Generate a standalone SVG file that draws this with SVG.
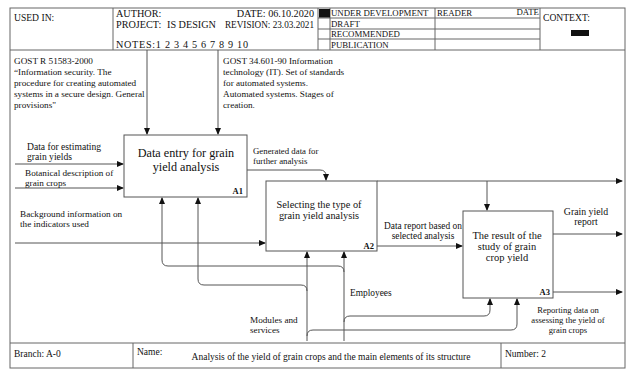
<svg xmlns="http://www.w3.org/2000/svg" width="630" height="369" viewBox="0 0 630 369">
<style>
text{font-family:"Liberation Serif","Times New Roman",serif;fill:#111}
.frame{fill:none;stroke:#666;stroke-width:1}
.box{fill:#fff;stroke:#555;stroke-width:1}
.c{fill:none;stroke:#555;stroke-width:1}
.hd{font-size:10.2px}
.st{font-size:8.8px}
.lb{font-size:9.2px}
.ft{font-size:9.5px}
</style>
<defs>
<marker id="ah" markerWidth="7" markerHeight="6" refX="6" refY="3" orient="auto" markerUnits="userSpaceOnUse">
<path d="M0 0 L7 3 L0 6 Z" fill="#111"/>
</marker>
</defs>
<rect width="630" height="369" fill="#fff"/>
<g id="frame">
<rect class="frame" x="10" y="8" width="615" height="360"/>
<line class="frame" x1="10" y1="50" x2="625" y2="50"/>
<line class="frame" x1="113" y1="8" x2="113" y2="50"/>
<line class="frame" x1="318" y1="8" x2="318" y2="50"/>
<line class="frame" x1="330" y1="8" x2="330" y2="50"/>
<line class="frame" x1="435" y1="8" x2="435" y2="50"/>
<line class="frame" x1="540" y1="8" x2="540" y2="50"/>
<line class="frame" x1="318" y1="18" x2="540" y2="18"/>
<line class="frame" x1="318" y1="29" x2="540" y2="29"/>
<line class="frame" x1="318" y1="39" x2="540" y2="39"/>
<rect x="319" y="9" width="11" height="8.5" fill="#111"/>
<rect x="571" y="30" width="18" height="6" fill="#111"/>
<line class="frame" x1="10" y1="343" x2="625" y2="343"/>
<line class="frame" x1="133" y1="343" x2="133" y2="368"/>
<line class="frame" x1="501" y1="343" x2="501" y2="368"/>
<text class="hd" x="14" y="21" style="font-size:9.6px">USED IN:</text>
<text class="hd" x="116" y="17">AUTHOR:</text>
<text class="hd" x="116" y="28">PROJECT:</text>
<text class="hd" x="167" y="28">IS DESIGN</text>
<text class="hd" x="314" y="17" text-anchor="end">DATE: 06.10.2020</text>
<text class="hd" x="225" y="28" textLength="89" lengthAdjust="spacingAndGlyphs">REVISION: 23.03.2021</text>
<text class="hd" x="116" y="48" textLength="132" lengthAdjust="spacing">NOTES:1 2 3 4 5 6 7 8 9 10</text>
<text class="st" x="331" y="16">UNDER DEVELOPMENT</text>
<text class="st" x="331" y="26.5">DRAFT</text>
<text class="st" x="331" y="37">RECOMMENDED</text>
<text class="st" x="331" y="47.5">PUBLICATION</text>
<text class="st" x="437" y="16">READER</text>
<text class="st" x="539" y="15" text-anchor="end">DATE</text>
<text class="hd" x="543" y="21" style="font-size:9.6px">CONTEXT:</text>
<text class="ft" x="14" y="357">Branch: A-0</text>
<text class="ft" x="137" y="355">Name:</text>
<text class="ft" x="331" y="360" text-anchor="middle">Analysis of the yield of grain crops and the main elements of its structure</text>
<text class="ft" x="505" y="357">Number: 2</text>
</g>
<g id="connectors">
<path class="c" d="M147 50 V134" marker-end="url(#ah)"/>
<path class="c" d="M218 50 V134" marker-end="url(#ah)"/>
<path class="c" d="M15 164 H123" marker-end="url(#ah)"/>
<path class="c" d="M15 188 H123" marker-end="url(#ah)"/>
<path class="c" d="M15 243 H265" marker-end="url(#ah)"/>
<path class="c" d="M247 170 H320 Q326 170 326 176 V180" marker-end="url(#ah)"/>
<path class="c" d="M377 181 H622" marker-end="url(#ah)"/>
<path class="c" d="M487 181 V210" marker-end="url(#ah)"/>
<path class="c" d="M377 246 H462" marker-end="url(#ah)"/>
<path class="c" d="M553 234 H622" marker-end="url(#ah)"/>
<path class="c" d="M553 292 H622" marker-end="url(#ah)"/>
<path class="c" d="M307 341 V252" marker-end="url(#ah)"/>
<path class="c" d="M344 341 V252" marker-end="url(#ah)"/>
<path class="c" d="M344 272 Q344 266 338 266 H168 Q162 266 162 260 V198" marker-end="url(#ah)"/>
<path class="c" d="M307 291 Q307 285 301 285 H204 Q198 285 198 279 V198" marker-end="url(#ah)"/>
<path class="c" d="M344 322 Q344 316 350 316 H484 Q490 316 490 310 V299" marker-end="url(#ah)"/>
<path class="c" d="M307 336 Q307 330 313 330 H511 Q517 330 517 324 V299" marker-end="url(#ah)"/>
</g>
<g id="labels">
<text class="lb"><tspan x="14" y="64">GOST R 51583-2000</tspan><tspan x="14" y="75">“Information security. The</tspan><tspan x="14" y="86">procedure for creating automated</tspan><tspan x="14" y="97">systems in a secure design. General</tspan><tspan x="14" y="108">provisions"</tspan></text>
<text class="lb"><tspan x="223" y="64">GOST 34.601-90 Information</tspan><tspan x="223" y="75">technology (IT). Set of standards</tspan><tspan x="223" y="86">for automated systems.</tspan><tspan x="223" y="97">Automated systems. Stages of</tspan><tspan x="223" y="108">creation.</tspan></text>
<text class="lb" style="font-size:9.6px"><tspan x="27" y="150">Data for estimating</tspan><tspan x="27" y="160">grain yields</tspan></text>
<text class="lb"><tspan x="25" y="176">Botanical description of</tspan><tspan x="25" y="186">grain crops</tspan></text>
<text class="lb"><tspan x="20" y="217">Background information on</tspan><tspan x="20" y="227">the indicators used</tspan></text>
<text class="lb" style="font-size:8.8px"><tspan x="253" y="154">Generated data for</tspan><tspan x="253" y="164">further analysis</tspan></text>
<text class="lb" text-anchor="middle" style="font-size:9.4px"><tspan x="423" y="229">Data report based on</tspan><tspan x="423" y="239">selected analysis</tspan></text>
<text class="lb" text-anchor="middle" style="font-size:9.8px"><tspan x="586" y="215">Grain yield</tspan><tspan x="586" y="225">report</tspan></text>
<text class="lb" text-anchor="middle" style="font-size:8.6px"><tspan x="568" y="313">Reporting data on</tspan><tspan x="568" y="323">assessing the yield of</tspan><tspan x="568" y="333">grain crops</tspan></text>
<text class="lb"><tspan x="250" y="323">Modules and</tspan><tspan x="250" y="333">services</tspan></text>
<text class="lb" x="350" y="296" style="font-size:9.4px">Employees</text>
</g>
<g id="A1">
<rect class="box" x="124" y="135" width="123" height="62"/>
<text text-anchor="middle" style="font-size:12.2px"><tspan x="186" y="157">Data entry for grain</tspan><tspan x="186" y="171">yield analysis</tspan></text>
<text x="243" y="194" text-anchor="end" style="font-size:8.5px;font-weight:bold">A1</text>
</g>
<g id="A2">
<rect class="box" x="266" y="181" width="111" height="70"/>
<text text-anchor="middle" style="font-size:10.3px"><tspan x="319" y="208">Selecting the type of</tspan><tspan x="319" y="219">grain yield analysis</tspan></text>
<text x="374" y="249" text-anchor="end" style="font-size:8.5px;font-weight:bold">A2</text>
</g>
<g id="A3">
<rect class="box" x="463" y="211" width="90" height="87"/>
<text text-anchor="middle" style="font-size:10.5px"><tspan x="507" y="239">The result of the</tspan><tspan x="507" y="250">study of grain</tspan><tspan x="507" y="261">crop yield</tspan></text>
<text x="550" y="295" text-anchor="end" style="font-size:8.5px;font-weight:bold">A3</text>
</g>
</svg>
